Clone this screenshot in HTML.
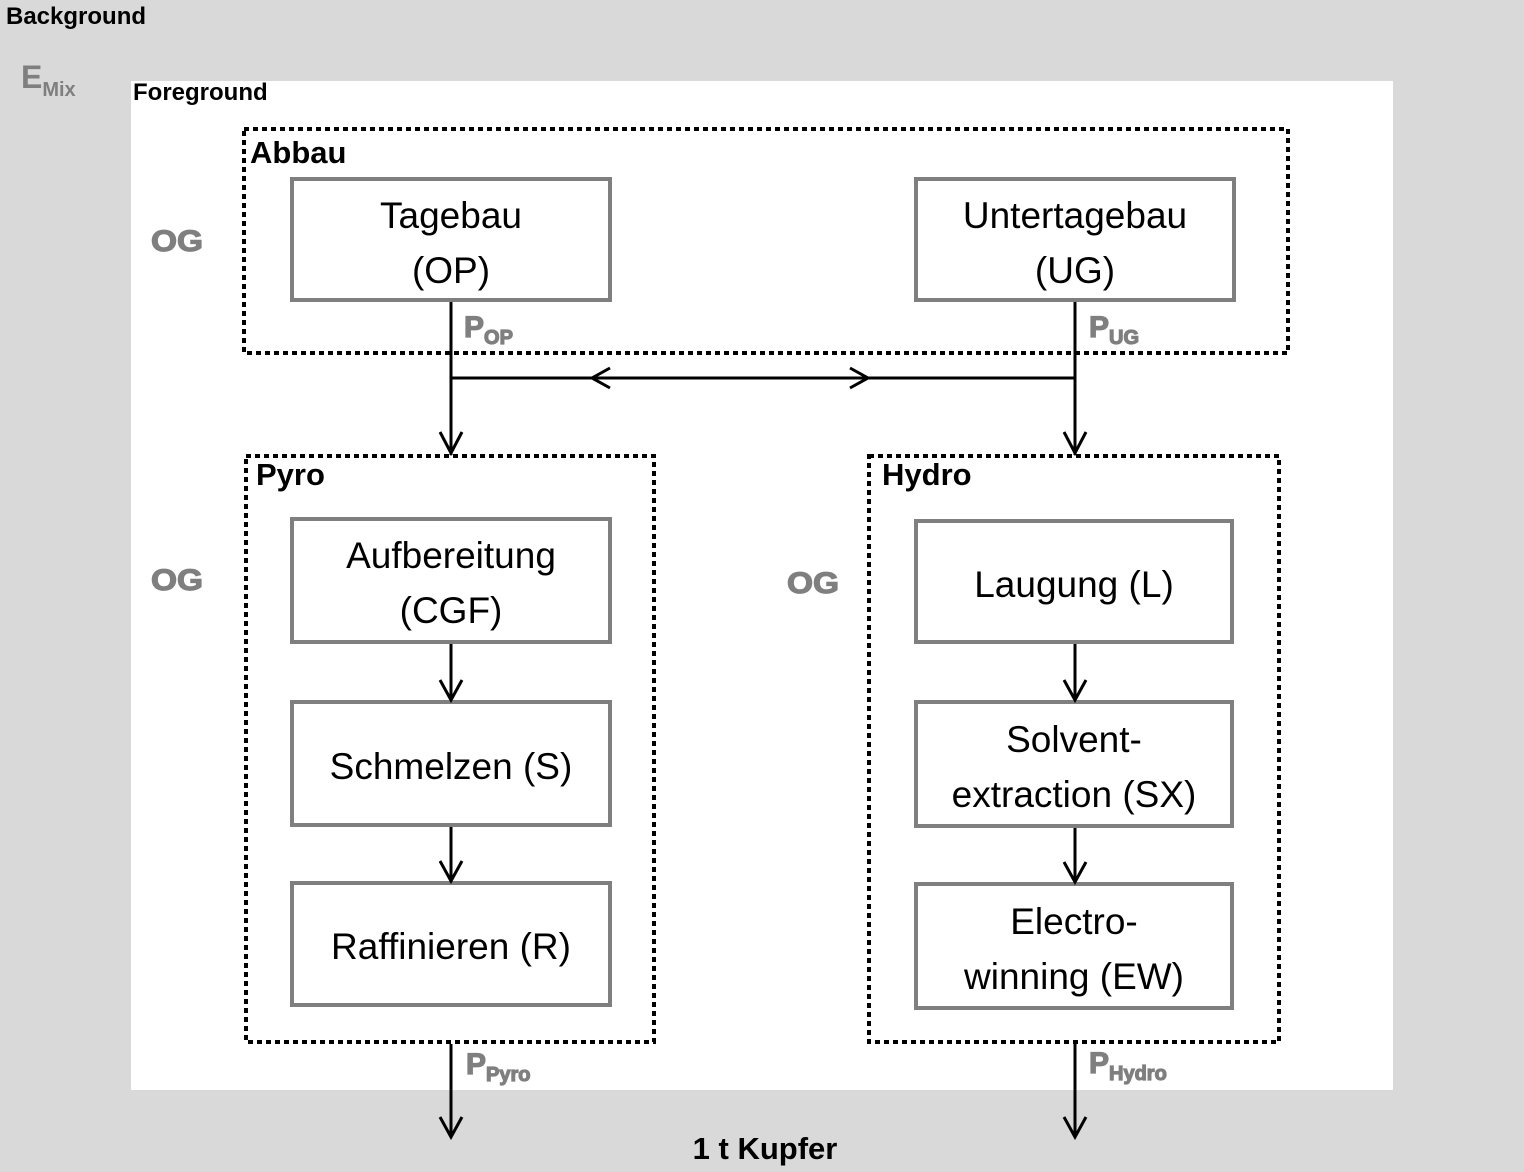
<!DOCTYPE html>
<html><head><meta charset="utf-8"><style>
html,body{margin:0;padding:0;background:#d9d9d9}
svg{display:block}
.b{font-family:"Liberation Sans",sans-serif;font-weight:bold}
.c{font-family:"Liberation Sans",sans-serif;font-size:37px;fill:#000}
</style></head><body>
<svg width="1524" height="1172" viewBox="0 0 1524 1172" xmlns="http://www.w3.org/2000/svg">
<rect width="1524" height="1172" fill="#d9d9d9"/>
<rect x="131" y="81" width="1262" height="1009" fill="#fff"/>
<text x="6" y="24" class="b" font-size="24">Background</text>
<text x="21" y="88" class="b" font-size="32" fill="#7f7f7f">E<tspan font-size="20" dy="8">Mix</tspan></text>
<text x="133" y="100" class="b" font-size="24">Foreground</text>
<g fill="none" stroke="#000" stroke-width="4" stroke-dasharray="5 4">
<rect x="244" y="129" width="1044" height="224"/>
<rect x="246" y="456" width="408" height="586"/>
<rect x="869" y="456" width="410" height="586"/>
</g>
<text x="250" y="163" class="b" font-size="31">Abbau</text>
<text x="256" y="485" class="b" font-size="31">Pyro</text>
<text x="882" y="485" class="b" font-size="31">Hydro</text>
<g class="b" font-size="30" fill="#7f7f7f" stroke="#7f7f7f" stroke-width="1.2">
<text x="151" y="251" textLength="52" lengthAdjust="spacingAndGlyphs">OG</text>
<text x="151" y="590" textLength="52" lengthAdjust="spacingAndGlyphs">OG</text>
<text x="787" y="593" textLength="52" lengthAdjust="spacingAndGlyphs">OG</text>
<text x="464" y="337">P<tspan font-size="20" dy="7">OP</tspan></text>
<text x="1089" y="337">P<tspan font-size="20" dy="7">UG</tspan></text>
<text x="466" y="1074">P<tspan font-size="20" dy="7">Pyro</tspan></text>
<text x="1089" y="1073">P<tspan font-size="20" dy="7">Hydro</tspan></text>
</g>
<g fill="#fff" stroke="#7f7f7f" stroke-width="4">
<rect x="292" y="179" width="318" height="121"/>
<rect x="916" y="179" width="318" height="121"/>
<rect x="292" y="519" width="318" height="123"/>
<rect x="292" y="702" width="318" height="123"/>
<rect x="292" y="883" width="318" height="122"/>
<rect x="916" y="521" width="316" height="121"/>
<rect x="916" y="702" width="316" height="124"/>
<rect x="916" y="884" width="316" height="124"/>
</g>
<g class="c" text-anchor="middle">
<text x="451" y="228">Tagebau</text><text x="451" y="283">(OP)</text>
<text x="1075" y="228">Untertagebau</text><text x="1075" y="283">(UG)</text>
<text x="451" y="568">Aufbereitung</text><text x="451" y="623">(CGF)</text>
<text x="451" y="779">Schmelzen (S)</text>
<text x="451" y="959">Raffinieren (R)</text>
<text x="1074" y="597">Laugung (L)</text>
<text x="1074" y="752">Solvent-</text><text x="1074" y="807">extraction (SX)</text>
<text x="1074" y="934">Electro-</text><text x="1074" y="989">winning (EW)</text>
</g>
<g stroke="#000" stroke-width="3" fill="none">
<path d="M451 302V455M1075 302V455M451 378H1075"/>
<path d="M440 432L451 453L462 432M1064 432L1075 453L1086 432"/>
<path d="M610 368L592 378L610 388M850 368L868 378L850 388"/>
<path d="M451 644V700M451 827V881M1075 644V700M1075 828V882"/>
<path d="M440 680L451 700L462 680M440 861L451 881L462 861M1064 680L1075 700L1086 680M1064 862L1075 882L1086 862"/>
<path d="M451 1044V1137M1075 1044V1137"/>
<path d="M440 1117L451 1137L462 1117M1064 1117L1075 1137L1086 1117"/>
</g>
<text x="765" y="1159" class="b" font-size="31" text-anchor="middle">1 t Kupfer</text>
</svg>
</body></html>
